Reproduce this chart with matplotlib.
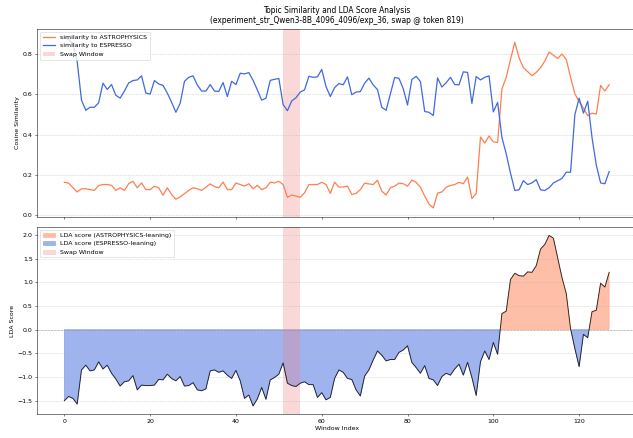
import numpy as np
import matplotlib
matplotlib.use('Agg')
import matplotlib.pyplot as plt
from matplotlib.patches import Patch

sim_astro = [0.164, 0.16, 0.137, 0.116, 0.132, 0.132, 0.128, 0.124, 0.148, 0.153,
             0.153, 0.149, 0.124, 0.137, 0.124, 0.157, 0.169, 0.137, 0.161, 0.128,
             0.128, 0.145, 0.137, 0.10, 0.137, 0.104, 0.08, 0.092, 0.108, 0.124,
             0.137, 0.132, 0.124, 0.14, 0.156, 0.143, 0.137, 0.165, 0.128, 0.128,
             0.161, 0.153, 0.145, 0.157, 0.132, 0.149, 0.128, 0.137, 0.165, 0.161,
             0.169, 0.153, 0.09, 0.101, 0.096, 0.09, 0.112, 0.153, 0.153, 0.153,
             0.164, 0.153, 0.109, 0.165, 0.14, 0.141, 0.145, 0.104, 0.109, 0.128,
             0.16, 0.156, 0.153, 0.174, 0.12, 0.101, 0.137, 0.145, 0.16, 0.157,
             0.145, 0.175, 0.164, 0.14, 0.096, 0.056, 0.037, 0.111, 0.116, 0.14,
             0.148, 0.153, 0.164, 0.157, 0.19, 0.084, 0.108, 0.388, 0.358, 0.393,
             0.364, 0.361, 0.626, 0.683, 0.771, 0.856, 0.779, 0.731, 0.711, 0.691,
             0.707, 0.731, 0.763, 0.808, 0.792, 0.776, 0.798, 0.771, 0.683, 0.602,
             0.562, 0.53, 0.493, 0.506, 0.501, 0.643, 0.615, 0.646]

sim_espresso = [0.88, 0.87, 0.85, 0.76, 0.57, 0.52, 0.535, 0.535, 0.557, 0.654,
                0.623, 0.647, 0.594, 0.58, 0.615, 0.655, 0.667, 0.67, 0.69, 0.605,
                0.60, 0.667, 0.65, 0.643, 0.605, 0.56, 0.51, 0.554, 0.663, 0.683,
                0.69, 0.645, 0.615, 0.615, 0.647, 0.615, 0.613, 0.657, 0.588, 0.663,
                0.647, 0.703, 0.70, 0.706, 0.668, 0.62, 0.57, 0.58, 0.668, 0.673,
                0.677, 0.548, 0.518, 0.566, 0.582, 0.61, 0.621, 0.688, 0.683, 0.685,
                0.722, 0.637, 0.588, 0.632, 0.652, 0.646, 0.685, 0.597, 0.61, 0.612,
                0.654, 0.679, 0.645, 0.622, 0.534, 0.52, 0.601, 0.682, 0.678, 0.626,
                0.546, 0.672, 0.688, 0.662, 0.514, 0.51, 0.494, 0.68, 0.635, 0.656,
                0.683, 0.647, 0.646, 0.71, 0.707, 0.554, 0.687, 0.67, 0.683, 0.69,
                0.512, 0.559, 0.385, 0.305, 0.209, 0.124, 0.127, 0.172, 0.153, 0.161,
                0.177, 0.127, 0.124, 0.137, 0.161, 0.172, 0.183, 0.214, 0.214, 0.498,
                0.58, 0.506, 0.565, 0.385, 0.249, 0.161, 0.157, 0.217]

lda_score = [-1.50, -1.41, -1.45, -1.57, -0.85, -0.75, -0.87, -0.85, -0.68, -0.83,
             -0.75, -0.92, -1.04, -1.19, -1.10, -1.08, -0.97, -1.27, -1.17, -1.18,
             -1.18, -1.17, -1.05, -1.06, -0.94, -1.03, -1.08, -0.99, -1.19, -1.18,
             -1.12, -1.27, -1.29, -1.25, -0.87, -0.85, -0.90, -0.87, -0.96, -1.03,
             -0.86, -1.08, -1.45, -1.38, -1.61, -1.46, -1.22, -1.47, -1.06, -1.01,
             -0.94, -0.70, -1.13, -1.18, -1.20, -1.13, -1.10, -1.16, -1.16, -1.43,
             -1.33, -1.48, -1.43, -1.03, -0.85, -0.90, -1.03, -1.05, -1.27, -1.40,
             -0.98, -0.85, -0.64, -0.45, -0.54, -0.66, -0.63, -0.63, -0.48, -0.43,
             -0.34, -0.69, -0.80, -0.92, -0.76, -1.03, -1.06, -1.18, -0.99, -0.92,
             -0.96, -0.83, -0.73, -0.96, -0.69, -1.01, -1.39, -0.68, -0.45, -0.63,
             -0.27, -0.52, 0.34, 0.39, 1.06, 1.19, 1.14, 1.13, 1.22, 1.21,
             1.35, 1.70, 1.80, 1.99, 1.93, 1.52, 1.10, 0.76, 0.02, -0.40,
             -0.78, -0.10, -0.17, 0.38, 0.41, 0.98, 0.90, 1.21]

swap_start, swap_end = 51, 55
windows = np.arange(len(lda_score))
lda = np.array(lda_score)

dpi = 633 / 14
fig, (ax1, ax2) = plt.subplots(2, 1, sharex=True, figsize=(14, 438 / dpi))
fig.subplots_adjust(left=0.0586, right=1.0054, top=0.934, bottom=0.0537, hspace=0.055)

# top: cosine similarity
ax1.plot(windows, sim_astro, color='coral', lw=2, label='similarity to ASTROPHYSICS')
ax1.plot(windows, sim_espresso, color='royalblue', lw=2, label='similarity to ESPRESSO')
ax1.axvspan(swap_start, swap_end, color='lightcoral', alpha=0.3, lw=0, label='Swap Window')
ax1.set_ylabel('Cosine Similarity', fontsize=10)
ax1.set_title('Topic Similarity and LDA Score Analysis\n'
              '(experiment_str_Qwen3-8B_4096_4096/exp_36, swap @ token 819)',
              fontsize=12, pad=9)
ax1.legend(loc='upper left', fontsize=10)
ax1.grid(axis='y', linestyle='--', alpha=0.6)

# bottom: LDA score
ax2.fill_between(windows, lda, 0, where=lda >= 0, interpolate=True, color='coral', alpha=0.5)
ax2.fill_between(windows, lda, 0, where=lda <= 0, interpolate=True, color='royalblue', alpha=0.5)
ax2.plot(windows, lda, color='black', lw=1.5, alpha=0.8)
ax2.axvspan(swap_start, swap_end, color='lightcoral', alpha=0.3, lw=0)
ax2.axhline(0, color='gray', lw=1, linestyle='--', alpha=0.6)
ax2.set_ylabel('LDA Score', fontsize=10)
ax2.set_xlabel('Window Index', fontsize=10)
ax2.grid(axis='y', linestyle='--', alpha=0.6)
handles = [Patch(color='coral', alpha=0.5, label='LDA score (ASTROPHYSICS-leaning)'),
           Patch(color='royalblue', alpha=0.5, label='LDA score (ESPRESSO-leaning)'),
           Patch(color='lightcoral', alpha=0.3, label='Swap Window')]
ax2.legend(handles=handles, loc='upper left', fontsize=10)

for ax in (ax1, ax2):
    ax.tick_params(labelsize=10)

fig.savefig('out.png', dpi=dpi)
